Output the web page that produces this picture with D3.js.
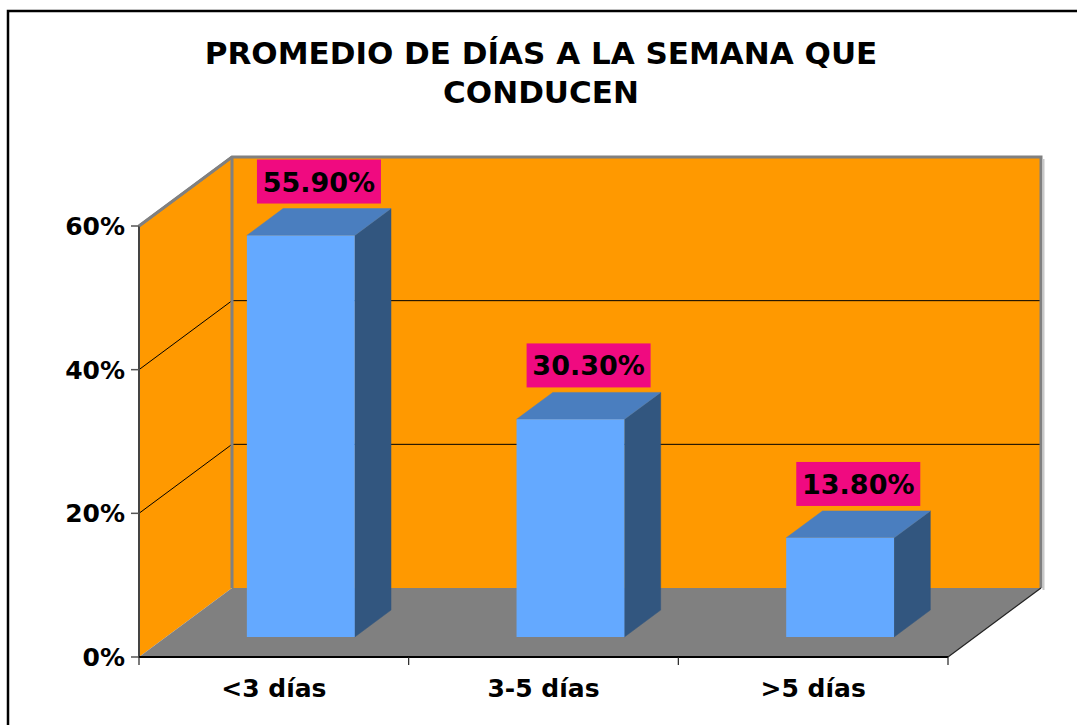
<!DOCTYPE html>
<html>
<head>
<meta charset="utf-8">
<script src="https://cdn.jsdelivr.net/npm/d3@7"></script>
<style>
  html, body { margin: 0; padding: 0; background: #fff; }
  svg { display: block; }
  text { font-family: "DejaVu Sans", Verdana, sans-serif; font-weight: bold; fill: #000; }
</style>
</head>
<body>
<svg id="chart" width="1077" height="725"></svg>
<script>
// ---- data ----
const titleLines = ["PROMEDIO DE DÍAS A LA SEMANA QUE", "CONDUCEN"];
const categories = ["<3 días", "3-5 días", ">5 días"];
const values = [0.559, 0.303, 0.138];
const valueLabels = ["55.90%", "30.30%", "13.80%"];
const yTicks = [0, 0.2, 0.4, 0.6];
const yTickLabels = ["0%", "20%", "40%", "60%"];

// ---- layout ----
const W = 1077, H = 725;
const plot = { left: 139, right: 948, bottom: 657, top: 226 };
const depth = { dx: 93, dy: -69 };
const barZ = [0.29, 0.68];
const barWidthFrac = 0.4;

const colors = {
  wall: "#FF9900", floor: "#808080", wallEdge: "#808080",
  barFront: "#64A9FF", barTop: "#4A7EBF", barSide: "#32567F",
  label: "#F00A80"
};

const svg = d3.select("#chart");

const x = d3.scaleBand().domain(categories).range([plot.left, plot.right]).paddingInner(0).paddingOuter(0);
const y = d3.scaleLinear().domain([0, 0.6]).range([plot.bottom, plot.top]);

// projection: front-plane x, value, depth fraction z
function P(xf, v, z) { return [xf + z * depth.dx, y(v) + z * depth.dy]; }
const line = d3.line();

// outer frame
svg.append("rect").attr("x", 8).attr("y", 11).attr("width", W + 10).attr("height", H + 10)
  .attr("fill", "#fff").attr("stroke", "#000").attr("stroke-width", 2.5);

// title
svg.selectAll("text.title").data(titleLines).enter().append("text")
  .attr("class", "title")
  .attr("x", 541).attr("y", (d, i) => 64 + i * 39)
  .attr("text-anchor", "middle").attr("font-size", 31)
  .text(d => d);

const yMax = 0.6, x0 = plot.left, x1 = plot.right;

// back wall
const bw = [P(x0, 0, 1), P(x1, 0, 1), P(x1, yMax, 1), P(x0, yMax, 1)];
svg.append("path").attr("d", line(bw) + "Z").attr("fill", colors.wall);

// left wall
const lw = [P(x0, 0, 0), P(x0, 0, 1), P(x0, yMax, 1), P(x0, yMax, 0)];
svg.append("path").attr("d", line(lw) + "Z").attr("fill", colors.wall);

// floor
const fl = [P(x0, 0, 0), P(x1, 0, 0), P(x1, 0, 1), P(x0, 0, 1)];
svg.append("path").attr("d", line(fl) + "Z").attr("fill", colors.floor);

// gridlines (exclude 0 and max)
yTicks.filter(v => v > 0 && v < yMax).forEach(v => {
  svg.append("path").attr("d", line([P(x0, v, 0), P(x0, v, 1), P(x1, v, 1)]))
    .attr("fill", "none").attr("stroke", "#000").attr("stroke-width", 1);
});

// wall edges
svg.append("path").attr("d", line([P(x0, yMax, 0), P(x0, yMax, 1), P(x1, yMax, 1), P(x1, 0, 1)]))
  .attr("fill", "none").attr("stroke", colors.wallEdge).attr("stroke-width", 3);
svg.append("path").attr("d", line([P(x0, yMax, 1), P(x0, 0, 1)]))
  .attr("fill", "none").attr("stroke", colors.wallEdge).attr("stroke-width", 3);
svg.append("path").attr("d", line([[P(x1, yMax, 1)[0] + 2.5, P(x1, yMax, 1)[1] + 2], [P(x1, 0, 1)[0] + 2.5, P(x1, 0, 1)[1] + 2]]))
  .attr("fill", "none").attr("stroke", "#c8c8c8").attr("stroke-width", 2);

// floor right edge
svg.append("path").attr("d", line([P(x1, 0, 0), P(x1, 0, 1)]))
  .attr("fill", "none").attr("stroke", "#222").attr("stroke-width", 1.2);

// bars
const bw2 = x.bandwidth() * barWidthFrac;
categories.forEach((c, i) => {
  const v = values[i];
  const xl = x(c) + x.bandwidth() / 2 - bw2 / 2, xr = xl + bw2;
  const [za, zb] = barZ;
  const g = svg.append("g");
  // side
  g.append("path").attr("d", line([P(xr, 0, za), P(xr, 0, zb), P(xr, v, zb), P(xr, v, za)]) + "Z")
    .attr("fill", colors.barSide).attr("stroke", colors.barSide).attr("stroke-width", 0.5);
  // top
  g.append("path").attr("d", line([P(xl, v, za), P(xr, v, za), P(xr, v, zb), P(xl, v, zb)]) + "Z")
    .attr("fill", colors.barTop).attr("stroke", colors.barTop).attr("stroke-width", 0.5);
  // front
  g.append("path").attr("d", line([P(xl, 0, za), P(xr, 0, za), P(xr, v, za), P(xl, v, za)]) + "Z")
    .attr("fill", colors.barFront);

  // value label
  const cx = (xl + xr) / 2 + (za + zb) / 2 * depth.dx;
  const topBack = P(xr, v, zb)[1];
  const bh = 44, bwid = 124;
  const by = topBack - 5 - bh;
  svg.append("rect").attr("x", cx - bwid / 2).attr("y", by).attr("width", bwid).attr("height", bh)
    .attr("fill", colors.label);
  svg.append("text").attr("x", cx).attr("y", by + bh / 2 + 10)
    .attr("text-anchor", "middle").attr("font-size", 27).text(valueLabels[i]);
});

// y axis line (left wall front edge)
svg.append("path").attr("d", line([P(x0, 0, 0), P(x0, yMax, 0)]))
  .attr("fill", "none").attr("stroke", "#444").attr("stroke-width", 2);
// left wall top edge already drawn from front; add from front corner
svg.append("path").attr("d", line([P(x0, yMax, 0), P(x0, yMax, 1)]))
  .attr("fill", "none").attr("stroke", colors.wallEdge).attr("stroke-width", 2.5);

// y ticks and labels
yTicks.forEach((v, i) => {
  svg.append("line").attr("x1", x0 - 8).attr("x2", x0).attr("y1", y(v)).attr("y2", y(v))
    .attr("stroke", "#555").attr("stroke-width", 1.5);
  svg.append("text").attr("x", x0 - 14).attr("y", y(v) + 9)
    .attr("text-anchor", "end").attr("font-size", 25).text(yTickLabels[i]);
});

// x axis line and ticks
svg.append("line").attr("x1", x0).attr("x2", x1).attr("y1", plot.bottom).attr("y2", plot.bottom)
  .attr("stroke", "#000").attr("stroke-width", 2);
const xTickPos = categories.map(c => x(c)).concat([x1]);
xTickPos.forEach(px => {
  svg.append("line").attr("x1", px).attr("x2", px).attr("y1", plot.bottom).attr("y2", plot.bottom + 8)
    .attr("stroke", "#222").attr("stroke-width", 1.2);
});
svg.selectAll("text.cat").data(categories).enter().append("text")
  .attr("class", "cat")
  .attr("x", d => x(d) + x.bandwidth() / 2)
  .attr("y", 697)
  .attr("text-anchor", "middle").attr("font-size", 25)
  .text(d => d);
</script>
</body>
</html>
